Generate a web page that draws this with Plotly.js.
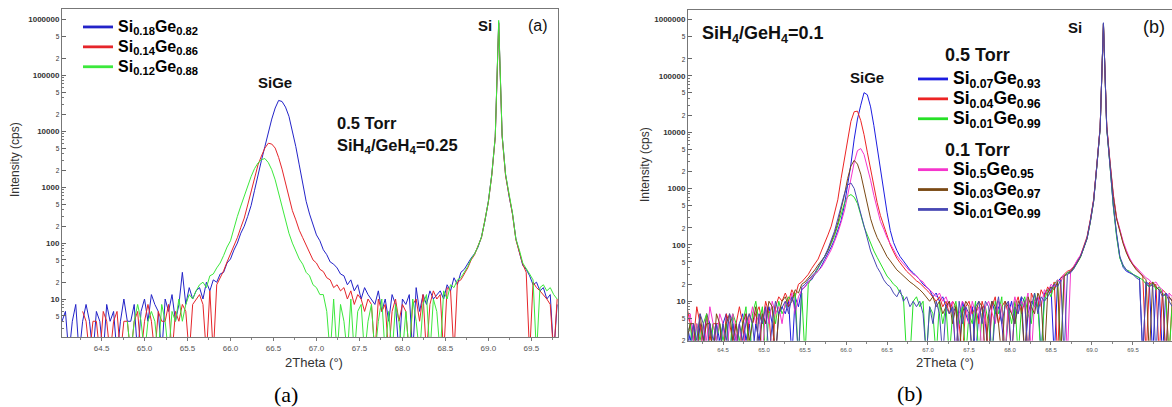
<!DOCTYPE html>
<html><head><meta charset="utf-8">
<script src="https://cdn.plot.ly/plotly-3.0.1.min.js"></script>
<style>html,body{margin:0;padding:0;background:#fff}#chart{width:1172px;height:407px}</style>
</head><body><div id="chart"></div>
<script>
// ---------- Panel (a) data ----------
const xA = [64.04,64.08,64.12,64.16,64.20,64.24,64.28,64.32,64.36,64.40,
 64.44,64.48,64.52,64.56,64.60,64.64,64.68,64.72,64.76,64.80,
 64.84,64.88,64.92,64.96,65.00,65.04,65.08,65.12,65.16,65.20,
 65.24,65.28,65.32,65.36,65.40,65.44,65.48,65.52,65.56,65.60,
 65.64,65.68,65.72,65.76,65.80,65.84,65.88,65.92,65.96,66.00,
 66.04,66.08,66.12,66.16,66.20,66.24,66.28,66.32,66.36,66.40,
 66.44,66.48,66.52,66.56,66.60,66.64,66.68,66.72,66.76,66.80,
 66.84,66.88,66.92,66.96,67.00,67.04,67.08,67.12,67.16,67.20,
 67.24,67.28,67.32,67.36,67.40,67.44,67.48,67.52,67.56,67.60,
 67.64,67.68,67.72,67.76,67.80,67.84,67.88,67.92,67.96,68.00,
 68.04,68.08,68.12,68.16,68.20,68.24,68.28,68.32,68.36,68.40,
 68.44,68.48,68.52,68.56,68.60,68.64,68.68,68.72,68.76,68.80,
 68.84,68.88,68.92,68.96,69.00,69.04,69.08,69.12,69.16,69.20,
 69.24,69.28,69.32,69.36,69.40,69.44,69.48,69.52,69.56,69.60,
 69.64,69.68,69.72,69.76,69.80];

const si18 = [4,6,1,4,8,1,4,8,4,1,
 6,4,1,8,4,6,1,4,10,4,
 4,8,1,6,10,4,12,8,6,1,
 10,6,12,4,8,30,8,16,10,14,
 16,10,20,14,22,20,28,30,44,52,
 75,100,150,200,300,470,880,1700,3000,5300,
 9800,16500,26000,35500,34000,27000,18500,10500,5300,2500,
 1100,560,330,220,140,110,76,62,46,42,
 36,28,26,18,22,14,18,10,16,12,
 10,8,14,6,10,4,12,8,1,10,
 8,12,1,16,6,12,8,14,10,12,
 14,10,18,14,24,18,30,34,44,54,
 65,85,130,250,560,1700,8000,880000,8500,1700,
 700,340,120,72,40,34,26,18,20,14,
 16,10,12,1,8];

const si14 = [null,null,null,null,null,null,6,4,1,4,
 4,1,6,4,1,4,6,1,4,4,
 1,4,6,1,4,8,4,1,6,4,
 4,8,1,6,4,8,6,1,8,10,
 12,8,1,14,1,18,24,32,46,64,
 90,125,190,280,480,820,1500,2500,3600,5000,
 6100,5900,5000,3400,2100,1150,620,380,260,170,
 125,92,72,50,44,34,31,24,22,16,
 18,14,16,10,14,8,12,10,6,10,
 8,1,10,6,8,1,6,10,4,8,
 6,1,8,10,4,12,1,8,14,10,
 12,1,16,14,1,20,22,28,36,50,
 62,90,125,260,540,1650,7800,850000,8200,1600,
 680,330,115,70,42,30,1,20,16,14,
 12,10,8,1,10];

const si12 = [null,null,null,null,null,null,null,null,null,null,
 null,null,null,null,null,null,null,null,null,4,
 1,4,8,4,1,4,6,4,1,8,
 4,1,6,4,10,4,8,12,10,14,
 18,20,16,26,28,36,44,60,85,110,
 190,300,460,700,1100,1550,2150,2700,3100,3250,
 2750,2050,1350,800,430,250,150,100,72,52,
 42,30,26,18,16,12,12,6,1,10,
 1,8,4,1,10,1,6,8,1,4,
 8,1,4,10,1,6,1,8,4,1,
 6,1,10,4,1,8,12,1,10,6,
 1,14,10,18,16,22,24,30,38,52,
 64,88,128,255,550,1680,8100,960000,8600,1700,
 720,350,118,76,44,36,28,22,1,16,
 18,14,16,12,10];

const namesA = ['Si<sub>0.18</sub>Ge<sub>0.82</sub>','Si<sub>0.14</sub>Ge<sub>0.86</sub>','Si<sub>0.12</sub>Ge<sub>0.88</sub>'];
const colorsA = ['#2323c8','#e5252a','#3ce83c'];

// ---------- Panel (b) data ----------
const xB = [64.06,64.10,64.14,64.18,64.22,64.26,64.30,64.34,64.38,64.42,
 64.46,64.50,64.54,64.58,64.62,64.66,64.70,64.74,64.78,64.82,
 64.86,64.90,64.94,64.98,65.02,65.06,65.10,65.14,65.18,65.22,
 65.26,65.30,65.34,65.38,65.42,65.46,65.50,65.54,65.58,65.62,
 65.66,65.70,65.74,65.78,65.82,65.86,65.90,65.94,65.98,66.02,
 66.06,66.10,66.14,66.18,66.22,66.26,66.30,66.34,66.38,66.42,
 66.46,66.50,66.54,66.58,66.62,66.66,66.70,66.74,66.78,66.82,
 66.86,66.90,66.94,66.98,67.02,67.06,67.10,67.14,67.18,67.22,
 67.26,67.30,67.34,67.38,67.42,67.46,67.50,67.54,67.58,67.62,
 67.66,67.70,67.74,67.78,67.82,67.86,67.90,67.94,67.98,68.02,
 68.06,68.10,68.14,68.18,68.22,68.26,68.30,68.34,68.38,68.42,
 68.46,68.50,68.54,68.58,68.62,68.66,68.70,68.74,68.78,68.82,
 68.86,68.90,68.94,68.98,69.02,69.06,69.10,69.14,69.18,69.22,
 69.26,69.30,69.34,69.38,69.42,69.46,69.50,69.54,69.58,69.62,
 69.66,69.70,69.74,69.78,69.82,69.86,69.90,69.94,69.98];

const si07 = [4,2,4,1,4,2,6,4,1,4,
 2,4,6,1,4,2,4,6,2,4,
 1,4,2,6,4,8,4,1,6,8,
 6,10,1,12,8,16,18,22,24,30,
 34,42,55,70,92,123,180,270,500,1100,
 2700,7500,17000,30000,50000,46000,28000,13000,5200,2000,
 900,380,180,110,80,62,52,44,36,32,
 28,24,20,18,16,12,14,10,12,8,
 10,6,8,1,10,6,4,8,1,6,
 8,4,1,10,6,8,4,1,6,10,
 4,8,12,1,6,10,8,12,1,14,
 16,18,1,22,26,28,32,34,40,50,
 62,90,130,260,600,2600,12000,860000,12000,2600,
 500,150,60,40,34,32,30,28,26,1,
 22,20,1,18,16,1,14,12,10];

const si04 = [8,4,2,8,4,1,6,2,4,4,
 4,1,6,4,2,4,8,4,1,6,
 4,6,8,4,10,6,1,8,12,10,
 14,10,16,12,20,22,26,30,38,46,
 56,78,105,150,214,360,630,1500,3400,7500,
 15500,23000,23500,16000,9000,4400,2200,1100,560,330,
 220,150,100,75,58,48,40,34,30,26,
 23,21,18,16,14,12,10,12,8,10,
 6,10,8,4,1,8,10,6,8,4,
 10,6,1,8,12,4,8,10,6,1,
 8,12,6,10,1,14,10,8,16,12,
 18,14,22,1,26,30,34,36,42,52,
 64,95,140,280,640,2700,12500,820000,13000,3000,
 800,300,180,110,75,55,44,38,32,28,
 1,22,18,20,1,16,14,1,12];

const si01a = [2,4,1,4,2,4,6,1,4,2,
 4,2,4,1,6,4,2,4,8,1,
 6,10,4,8,1,6,8,4,10,6,
 8,12,10,14,1,14,1,20,26,30,
 38,50,60,80,105,145,220,360,540,720,
 780,700,540,340,210,150,105,78,60,46,
 36,28,24,20,18,14,12,1,1,10,
 12,8,10,1,8,6,1,10,4,8,
 1,6,10,4,8,1,6,4,10,1,
 6,8,4,1,10,6,12,1,8,4,
 10,1,8,12,6,4,14,8,1,10,
 16,12,20,24,1,28,32,34,38,48,
 60,88,128,250,580,2500,11500,840000,11500,2500,
 480,140,58,42,36,34,30,28,26,24,
 20,18,22,16,18,14,12,1,10];

const si05 = [4,6,2,4,1,4,2,8,4,2,
 6,4,1,4,6,2,4,1,6,4,
 8,4,6,1,8,4,10,6,8,4,
 10,8,14,6,12,16,18,22,26,30,
 34,40,50,64,82,115,162,250,400,750,
 1500,2900,4700,5100,4000,2500,1400,750,420,260,
 190,135,105,80,64,54,46,40,34,30,
 28,24,22,18,16,14,12,14,10,12,
 8,10,1,6,10,8,4,10,6,8,
 1,8,10,6,4,10,8,1,10,6,
 12,6,10,8,14,1,10,12,8,16,
 14,20,18,24,22,30,1,36,42,54,
 66,92,135,270,620,2650,12200,800000,12800,2900,
 760,310,190,115,80,58,46,40,34,30,
 26,24,20,22,18,16,1,14,12];

const si03 = [2,4,4,1,6,2,4,4,1,6,
 4,1,4,6,2,4,1,4,6,2,
 4,8,1,6,4,10,8,1,6,10,
 12,8,10,16,14,20,22,26,30,36,
 44,52,62,80,110,160,245,420,760,1500,
 2500,3150,2700,1800,950,480,290,190,135,105,
 78,62,52,44,36,32,28,25,22,20,
 18,16,14,12,10,12,8,10,6,8,
 10,4,8,1,6,10,8,1,6,10,
 8,1,6,10,8,4,1,10,8,6,
 4,10,8,1,12,8,6,14,10,1,
 14,18,16,22,1,28,30,34,40,48,
 62,92,132,265,610,2600,12000,830000,12600,2800,
 720,290,170,105,72,54,44,36,32,28,
 24,1,22,18,16,14,1,12,10];

const si01b = [4,1,4,2,6,4,1,4,2,4,
 1,4,2,6,4,1,4,2,4,6,
 4,1,6,4,8,1,4,10,6,8,
 10,6,12,8,1,18,20,24,28,32,
 40,50,63,85,120,175,290,480,800,1150,
 1250,1000,600,330,200,120,78,56,40,32,
 24,20,18,14,12,16,10,12,8,10,
 8,10,6,1,8,4,10,6,1,8,
 6,8,1,10,4,8,6,1,8,10,
 4,10,8,1,6,12,4,8,10,1,
 8,6,12,10,1,8,14,6,12,10,
 12,16,20,18,24,1,30,32,38,50,
 62,88,130,258,590,2550,11800,870000,11800,2550,
 520,160,62,44,36,32,30,26,24,1,
 22,18,20,1,16,12,14,10,8];

const namesB = ['Si<sub>0.07</sub>Ge<sub>0.93</sub>','Si<sub>0.04</sub>Ge<sub>0.96</sub>','Si<sub>0.01</sub>Ge<sub>0.99</sub>',
 'Si<sub>0.5</sub>Ge<sub>0.95</sub>','Si<sub>0.03</sub>Ge<sub>0.97</sub>','Si<sub>0.01</sub>Ge<sub>0.99</sub>'];
const groupsB = ['0.5 Torr','0.5 Torr','0.5 Torr','0.1 Torr','0.1 Torr','0.1 Torr'];
const colorsB = ['#1c1ce0','#ec2424','#26e026','#f535cc','#7a4914','#4848b4'];

// ---------- ticks and texts ----------
const yTickA = [5,10,20,50,100,200,500,1000,2000,5000,10000,20000,50000,100000,200000,500000,1000000];
const yTickB = [2,5,10,20,50,100,200,500,1000,2000,5000,10000,20000,50000,100000,200000,500000,1000000];
const yMinor = [3,4,6,7,8,9,30,40,60,70,80,90,300,400,600,700,800,900,3000,4000,6000,7000,8000,9000,30000,40000,60000,70000,80000,90000];
const xTitle = '2Theta (°)';
const yTitle = 'Intensity (cps)';
const peakLabels = ['SiGe','Si'];
const panelTags = ['(a)','(b)'];
const condA = ['0.5 Torr','SiH<sub>4</sub>/GeH<sub>4</sub>=0.25'];
const condB = 'SiH<sub>4</sub>/GeH<sub>4</sub>=0.1';
const torrHeads = ['0.5 Torr','0.1 Torr'];

const W = 1172, H = 407;
const FONT = 'Liberation Sans, Arial, sans-serif';

// decade labels in full, in-between labels as a small single digit
function tickText(v){
  const e = Math.log10(v);
  if (Math.abs(e - Math.round(e)) < 1e-9) return '<b>' + v + '</b>';
  return '<span style="font-size:6.5px">' + String(v).charAt(0) + '</span>';
}

const data = [];
[si18, si14, si12].forEach((ys, i) => {
  data.push({x: xA, y: ys, type:'scatter', mode:'lines', xaxis:'x', yaxis:'y',
    line:{color: colorsA[i], width:1}, showlegend:false, hoverinfo:'skip'});
});
[si07, si04, si01a, si05, si03, si01b].forEach((ys, i) => {
  data.push({x: xB, y: ys, type:'scatter', mode:'lines', xaxis:'x2', yaxis:'y2',
    line:{color: colorsB[i], width:1}, showlegend:false, hoverinfo:'skip'});
});
// legend keys (thicker sample lines, as in the reference)
namesA.forEach((n, i) => {
  data.push({x:[null], y:[null], type:'scatter', mode:'lines', xaxis:'x', yaxis:'y',
    line:{color: colorsA[i], width:2.8}, legend:'legend',
    name:'<span style="font-size:16px"><b>' + n + '</b></span>'});
});
namesB.forEach((n, i) => {
  data.push({x:[null], y:[null], type:'scatter', mode:'lines', xaxis:'x2', yaxis:'y2',
    line:{color: colorsB[i], width:2.8}, legend:'legend2', legendgroup: groupsB[i],
    name:'<span style="font-size:17.5px"><b>' + n + '</b></span>'});
});

function ann(text, x, y, size, extra){
  return Object.assign({text: text, x: x / W, y: 1 - y / H, xref:'paper', yref:'paper',
    showarrow:false, xanchor:'center', yanchor:'middle',
    font:{family: FONT, size: size, color:'#111'}}, extra || {});
}

const annotations = [
  ann('<b>' + peakLabels[0] + '</b>', 275, 83, 15),
  ann('<b>' + peakLabels[1] + '</b>', 485, 25, 15),
  ann(panelTags[0], 538, 25, 16),
  ann('<b>' + condA[0] + '</b>', 335, 123, 16.5, {xanchor:'left'}),
  ann('<b>' + condA[1] + '</b>', 335, 146, 16.5, {xanchor:'left'}),
  ann('<b>' + condB + '</b>', 700, 34, 18, {xanchor:'left'}),
  ann('<b>' + peakLabels[0] + '</b>', 867, 77, 15),
  ann('<b>' + peakLabels[1] + '</b>', 1075, 27, 15),
  ann(panelTags[1], 1154, 27, 18),
  ann('<b>' + torrHeads[0] + '</b>', 943, 55, 18, {xanchor:'left'}),
  ann('<b>' + torrHeads[1] + '</b>', 943, 150, 18, {xanchor:'left'}),
  ann(xTitle, 314, 362, 13, {font:{family:FONT, size:13, color:'#333'}}),
  ann(xTitle, 945, 362, 13, {font:{family:FONT, size:13, color:'#333'}}),
  ann(yTitle, 15, 160, 12, {textangle:-90, font:{family:FONT, size:12, color:'#333'}}),
  ann(yTitle, 645, 165, 12, {textangle:-90, font:{family:FONT, size:12, color:'#333'}}),
  ann(panelTags[0], 286, 394, 22, {font:{family:'Liberation Serif, Times New Roman, serif', size:22, color:'#000'}}),
  ann(panelTags[1], 910, 393, 22, {font:{family:'Liberation Serif, Times New Roman, serif', size:22, color:'#000'}})
];

function xAxis(domain, range, fsize, anchor){
  return {domain: domain, range: range, anchor: anchor, tick0:64.5, dtick:0.5, tickformat:'.1f',
    ticks:'outside', ticklen:3, tickcolor:'#777', tickwidth:1,
    tickfont:{family:FONT, size: fsize, color:'#555'},
    showline:true, linecolor:'#777', linewidth:1, mirror:true, showgrid:false, zeroline:false,
    minor:{tick0:64.25, dtick:0.25, ticks:'outside', ticklen:2, tickcolor:'#888', showgrid:false}};
}
function yAxis(domain, range, vals, anchor, mirror){
  return {domain: domain, range: range, anchor: anchor, type:'log',
    tickmode:'array', tickvals: vals, ticktext: vals.map(tickText),
    ticks:'inside', ticklen:4, tickcolor:'#666', tickwidth:1,
    tickfont:{family:FONT, size:8, color:'#333'},
    showline:true, linecolor:'#777', linewidth:1, mirror: mirror, showgrid:false, zeroline:false,
    minor:{tickmode:'array', tickvals: yMinor, ticks:'inside', ticklen:2, tickcolor:'#777', showgrid:false}};
}

const layout = {
  width: W, height: H,
  margin:{l:0, r:0, t:0, b:0},
  paper_bgcolor:'#fff', plot_bgcolor:'#fff',
  font:{family: FONT},
  showlegend:true,
  xaxis: xAxis([62/W, 558/W], [64.04, 69.81], 8, 'y'),
  yaxis: yAxis([1-337/H, 1-9.3/H], [0.321, 6.18], yTickA, 'x', true),
  xaxis2: xAxis([688/W, 1], [64.073, 69.976], 6, 'y2'),
  yaxis2: yAxis([1-340.7/H, 1-9.5/H], [0.3005, 6.174], yTickB, 'x2', false),
  legend:{x: 78/W, y: 1-12/H, xanchor:'left', yanchor:'top', bgcolor:'rgba(0,0,0,0)',
    font:{family: FONT, size:13, color:'#000'}, itemwidth:30, tracegroupgap:0},
  legend2:{x: 913/W, y: 1-64/H, xanchor:'left', yanchor:'top', bgcolor:'rgba(0,0,0,0)',
    font:{family: FONT, size:13, color:'#000'}, itemwidth:30, traceorder:'grouped', tracegroupgap:31},
  annotations: annotations
};

Plotly.newPlot('chart', data, layout, {displayModeBar:false, staticPlot:true});
</script>
</body></html>
